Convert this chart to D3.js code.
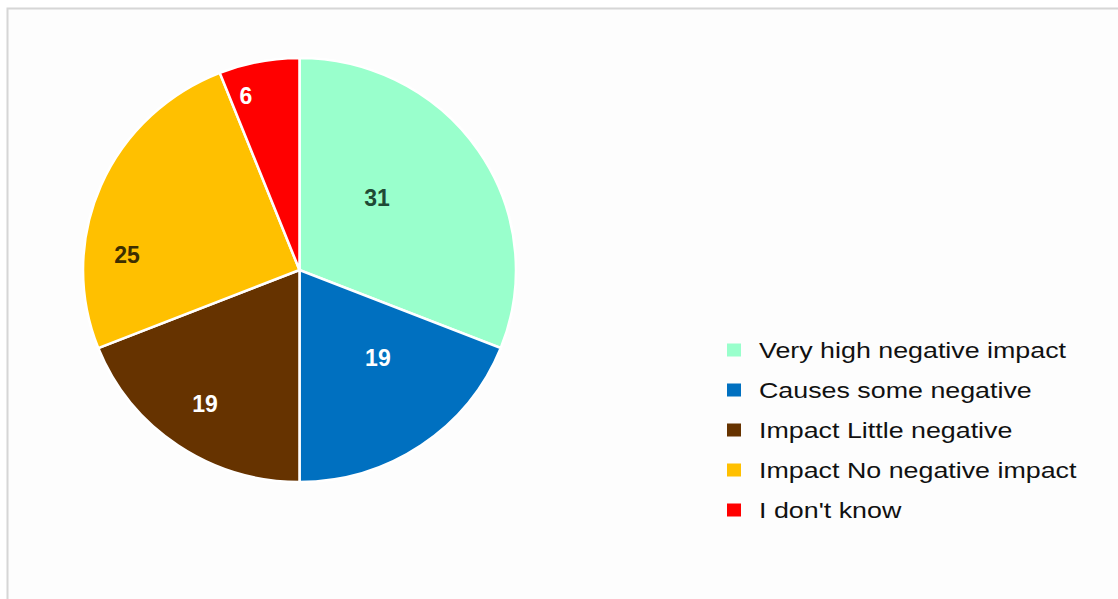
<!DOCTYPE html>
<html>
<head>
  <meta charset="utf-8">
  <title>Impact pie</title>
  <script src="https://d3js.org/d3.v7.min.js"></script>
  <style>
    body { margin: 0; background: #fff; }
    .frame { fill: #fdfdfd; stroke: #d6d6d6; stroke-width: 2; }
    .slice path { stroke: #fff; stroke-width: 2.5; }
    .val text { font-family: "Liberation Sans", Arial, sans-serif; font-weight: bold; font-size: 23px; }
    .legend text { font-family: "Liberation Sans", Arial, sans-serif; font-size: 22px; fill: #111; }
  </style>
</head>
<body>
<script>
// data
var categories = ['Very high negative impact', 'Causes some negative', 'Impact Little negative',
                  'Impact No negative impact', "I don't know"];
var values = [31, 19, 19, 25, 6];
var colors = ['#99ffcc', '#0070c0', '#663300', '#ffc000', '#ff0000'];
var labelColors = ['#1f4a35', '#ffffff', '#ffffff', '#3d2e00', '#ffffff'];

// label placement (Excel "best fit" is not at the slice middle):
// distance as fraction of radius, and angle shift in degrees
var labelR = [0.493, 0.551, 0.768, 0.80, 0.857];
var labelShift = [-9.3, -6.9, 0.4, -18.3, -6];

var W = 1118, H = 599;
var CX = 299.5, CY = 270, R = 212, SX = 216.5 / 212;
var TEXT_SX = 1.22;

var svg = d3.select('body').append('svg')
  .attr('width', W)
  .attr('height', H);

// light frame, cut at the right and bottom edges
svg.append('rect')
  .attr('class', 'frame')
  .attr('x', 7.5).attr('y', 8.5)
  .attr('width', W + 20).attr('height', H + 20);

var pie = d3.pie().sort(null).value(function(d) { return d; });
var arcs = pie(values);
var arc = d3.arc().innerRadius(0).outerRadius(R);

var g = svg.append('g')
  .attr('transform', 'translate(' + CX + ',' + CY + ') scale(' + SX + ',1)');

g.append('g').attr('class', 'slice')
  .selectAll('path')
  .data(arcs)
  .enter().append('path')
  .attr('d', arc)
  .attr('fill', function(d, i) { return colors[i]; });

function labelAngle(d, i) {
  return (d.startAngle + d.endAngle) / 2 + labelShift[i] * Math.PI / 180;
}

var vals = svg.append('g').attr('class', 'val');
vals.selectAll('text')
  .data(arcs)
  .enter().append('text')
  .attr('x', function(d, i) { return CX + Math.sin(labelAngle(d, i)) * R * labelR[i] * SX; })
  .attr('y', function(d, i) { return CY - Math.cos(labelAngle(d, i)) * R * labelR[i]; })
  .attr('text-anchor', 'middle')
  .attr('dy', '0.36em')
  .attr('fill', function(d, i) { return labelColors[i]; })
  .text(function(d) { return d.data; });

// legend
var ly = d3.scalePoint().domain(d3.range(categories.length)).range([350, 510]);
var legend = svg.append('g').attr('class', 'legend');
var item = legend.selectAll('g')
  .data(categories)
  .enter().append('g')
  .attr('transform', function(d, i) { return 'translate(727,' + ly(i) + ')'; });

item.append('rect')
  .attr('x', 0).attr('y', -6.5)
  .attr('width', 14).attr('height', 13)
  .attr('fill', function(d, i) { return colors[i]; });

item.append('text')
  .attr('transform', 'translate(32,0) scale(' + TEXT_SX + ',1)')
  .attr('dy', '0.36em')
  .text(function(d) { return d; });
</script>
</body>
</html>
